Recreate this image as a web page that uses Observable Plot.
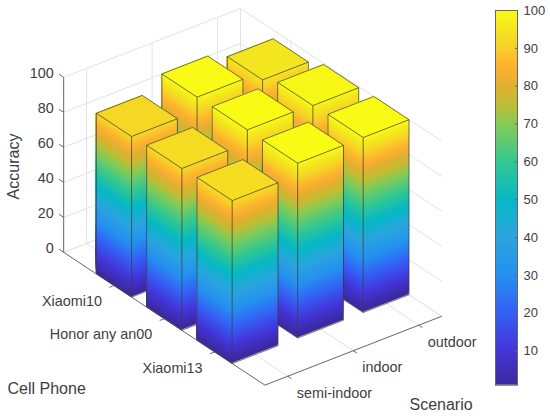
<!DOCTYPE html>
<html>
<head>
<meta charset="utf-8">
<script src="https://cdn.jsdelivr.net/npm/d3@7"></script>
<script src="https://cdn.jsdelivr.net/npm/@observablehq/plot@0.6"></script>
<style>
html,body{margin:0;padding:0;background:#fff}
#chart{position:relative;width:550px;height:416px;overflow:hidden}
#chart svg{position:absolute;top:0;background:transparent}
</style>
</head>
<body>
<div id="chart"></div>
<script>
const phones = ["Xiaomi10", "Honor any an00", "Xiaomi13"];
const scenarios = ["semi-indoor", "indoor", "outdoor"];
const semiIndoor = [91.8, 92.5, 93.1];
const indoor = [99.7, 100, 99.9];
const outdoor = [95, 99.3, 100];
const accuracyTicks = [0, 20, 40, 60, 80, 100];
const colorbarTicks = [10, 20, 30, 40, 50, 60, 70, 80, 90, 100];
const colorStops = [1, 10, 20, 30, 40, 50, 60, 70, 75, 80, 85, 90, 95, 100];
const colorValues = ["#3b2a9e", "#4435d8", "#3560f5", "#2590f0", "#2ba5de", "#06b8c5", "#35c890", "#86cb55",
  "#c0bd35", "#e0b030", "#feb030", "#f8cf28", "#f3e61e", "#f9fb15"];

const series = [semiIndoor, indoor, outdoor];
const sMin = 0.65, sMax = 3.35, pMin = 0, pMax = 4, half = 0.35;
const font = "'Liberation Sans', Arial, sans-serif";
const ink = "#404040", axisInk = "#666666", gridInk = "#e2e2e2", edgeInk = "#3c3c3c";
const color = {type: "linear", domain: colorStops, range: colorValues, interpolate: "rgb"};

// Orthographic view: phone index p, scenario index s, accuracy z
const px = (p, s) => 20.6 + 50.3 * p + 65.5 * s;
const py = (p, s, z) => 268.4 + 33.2 * p - 25.5 * s - 1.75 * z;
const pt = (p, s, z) => ({x: px(p, s), y: py(p, s, z)});

function seg(a, b) { return {x1: a.x, y1: a.y, x2: b.x, y2: b.y}; }

const grid = [];
for (const z of accuracyTicks) {
  grid.push(seg(pt(pMin, sMin, z), pt(pMin, sMax, z)));
  grid.push(seg(pt(pMin, sMax, z), pt(pMax, sMax, z)));
}
scenarios.forEach((_, i) => {
  const s = i + 1;
  grid.push(seg(pt(pMin, s, 0), pt(pMin, s, 100)));
  grid.push(seg(pt(pMin, s, 0), pt(pMax, s, 0)));
});
phones.forEach((_, i) => {
  const p = i + 1;
  grid.push(seg(pt(p, sMax, 0), pt(p, sMax, 100)));
  grid.push(seg(pt(p, sMin, 0), pt(p, sMax, 0)));
});
grid.push(seg(pt(pMin, sMax, 0), pt(pMin, sMax, 100)));
grid.push(seg(pt(pMin, sMin, 0), pt(pMin, sMax, 0)));
grid.push(seg(pt(pMin, sMax, 0), pt(pMax, sMax, 0)));

const axes = [
  seg(pt(pMin, sMin, 0), pt(pMin, sMin, 100)),
  seg(pt(pMin, sMin, 0), pt(pMax, sMin, 0)),
  seg(pt(pMax, sMin, 0), pt(pMax, sMax, 0)),
  ...accuracyTicks.map(z => seg(pt(pMin, sMin, z), pt(pMin - 0.09, sMin, z))),
  ...phones.map((_, i) => seg(pt(i + 1, sMin, 0), pt(i + 1, sMin - 0.07, 0))),
  ...scenarios.map((_, i) => seg(pt(pMax, i + 1, 0), pt(pMax + 0.07, i + 1, 0)))
];

function barMarks(p, s, h) {
  const pa = p - half, pb = p + half, sa = s - half, sb = s + half;
  const strips = [];
  let id = 0;
  const step = 0.5;
  const face = (p1, s1, p2, s2) => {
    // Each strip runs to the bar's top, so later strips repaint it and no seams show
    for (let z = 0; z < h; z += step) {
      const lvl = Math.max(1, Math.min(z + step / 2, h));
      id++;
      for (const [a, b] of [[p1, s1], [p2, s2]]) {
        strips.push({x: px(a, b), y1: py(a, b, z), y2: py(a, b, h), id, lvl});
      }
    }
  };
  face(pa, sa, pb, sa); // left face
  face(pb, sa, pb, sb); // right face
  const A = pt(pa, sa, h), B = pt(pb, sa, h), C = pt(pb, sb, h), D = pt(pa, sb, h);
  const top = [{...seg(A, A), lvl: h}, {...seg(D, B), lvl: h}, {...seg(C, C), lvl: h}];
  const outline = [
    seg(A, B), seg(B, C), seg(C, D), seg(D, A),
    seg(B, pt(pb, sa, 0)), seg(A, pt(pa, sa, 0)), seg(C, pt(pb, sb, 0)),
    seg(pt(pa, sa, 0), pt(pb, sa, 0)), seg(pt(pb, sa, 0), pt(pb, sb, 0))
  ];
  return [
    Plot.area(strips, {x1: "x", y1: "y1", y2: "y2", z: "id", fill: "lvl"}),
    Plot.area(top, {x1: "x1", y1: "y1", x2: "x2", y2: "y2", fill: "lvl"}),
    Plot.link(outline, {x1: "x1", y1: "y1", x2: "x2", y2: "y2", stroke: edgeInk, strokeWidth: 0.8, strokeOpacity: 0.9})
  ];
}

const bars = [];
phones.forEach((_, i) => {
  for (let j = scenarios.length - 1; j >= 0; j--) {
    bars.push(...barMarks(i + 1, j + 1, series[j][i]));
  }
});

const zLabels = accuracyTicks.map(z => ({...pt(pMin, sMin, z), t: String(z)}));
const pLabels = phones.map((t, i) => ({...pt(i + 1, sMin, 0), t}));
const sLabels = scenarios.map((t, i) => ({...pt(pMax, i + 1, 0), t}));

const main = Plot.plot({
  width: 550, height: 416, margin: 0,
  style: {fontFamily: font, background: "transparent"},
  x: {domain: [0, 550], range: [0, 550], axis: null},
  y: {domain: [0, 416], range: [0, 416], axis: null},
  color,
  marks: [
    Plot.link(grid, {x1: "x1", y1: "y1", x2: "x2", y2: "y2", stroke: gridInk, strokeWidth: 1}),
    Plot.link(axes, {x1: "x1", y1: "y1", x2: "x2", y2: "y2", stroke: axisInk, strokeWidth: 1}),
    ...bars,
    Plot.text(zLabels, {x: "x", y: "y", text: "t", textAnchor: "end", dx: -10, dy: -3.5, fontSize: 14.4, fill: ink}),
    Plot.text(pLabels, {x: "x", y: "y", text: "t", textAnchor: "end", dx: -12, dy: 16, fontSize: 14.4, fill: ink}),
    Plot.text(sLabels, {x: "x", y: "y", text: "t", textAnchor: "start", dx: 9, dy: 17, fontSize: 14.4, fill: ink}),
    Plot.text(["Accuracy"], {x: () => 13, y: () => 166, text: d => d, rotate: -90, fontSize: 16, fill: ink}),
    Plot.text(["Cell Phone"], {x: () => 7, y: () => 388, text: d => d, textAnchor: "start", fontSize: 16, fill: ink}),
    Plot.text(["Scenario"], {x: () => 409, y: () => 404, text: d => d, textAnchor: "start", fontSize: 16, fill: ink})
  ]
});

const levels = d3.range(1, 100, 0.5);
const bar = Plot.plot({
  width: 60, height: 395, marginLeft: 5, marginRight: 33, marginTop: 10, marginBottom: 10.3,
  style: {fontFamily: font, background: "transparent"},
  x: {domain: [0, 1], axis: null},
  y: {domain: [1, 100]},
  color,
  marks: [
    Plot.rect(levels, {x1: () => 0, x2: () => 1, y1: d => d, y2: () => 100, fill: d => d + 0.25}),
    Plot.ruleY(colorbarTicks.slice(0, -1), {x1: () => 0.9, x2: () => 1, stroke: axisInk}),
    Plot.frame({stroke: axisInk, strokeWidth: 1}),
    Plot.axisY(colorbarTicks, {anchor: "right", tickSize: 0, tickPadding: 6, label: null, fontSize: 13, color: ink, tickFormat: d => String(d)})
  ]
});
bar.style.left = "490px";

const root = document.getElementById("chart");
root.append(main, bar);
</script>
</body>
</html>
